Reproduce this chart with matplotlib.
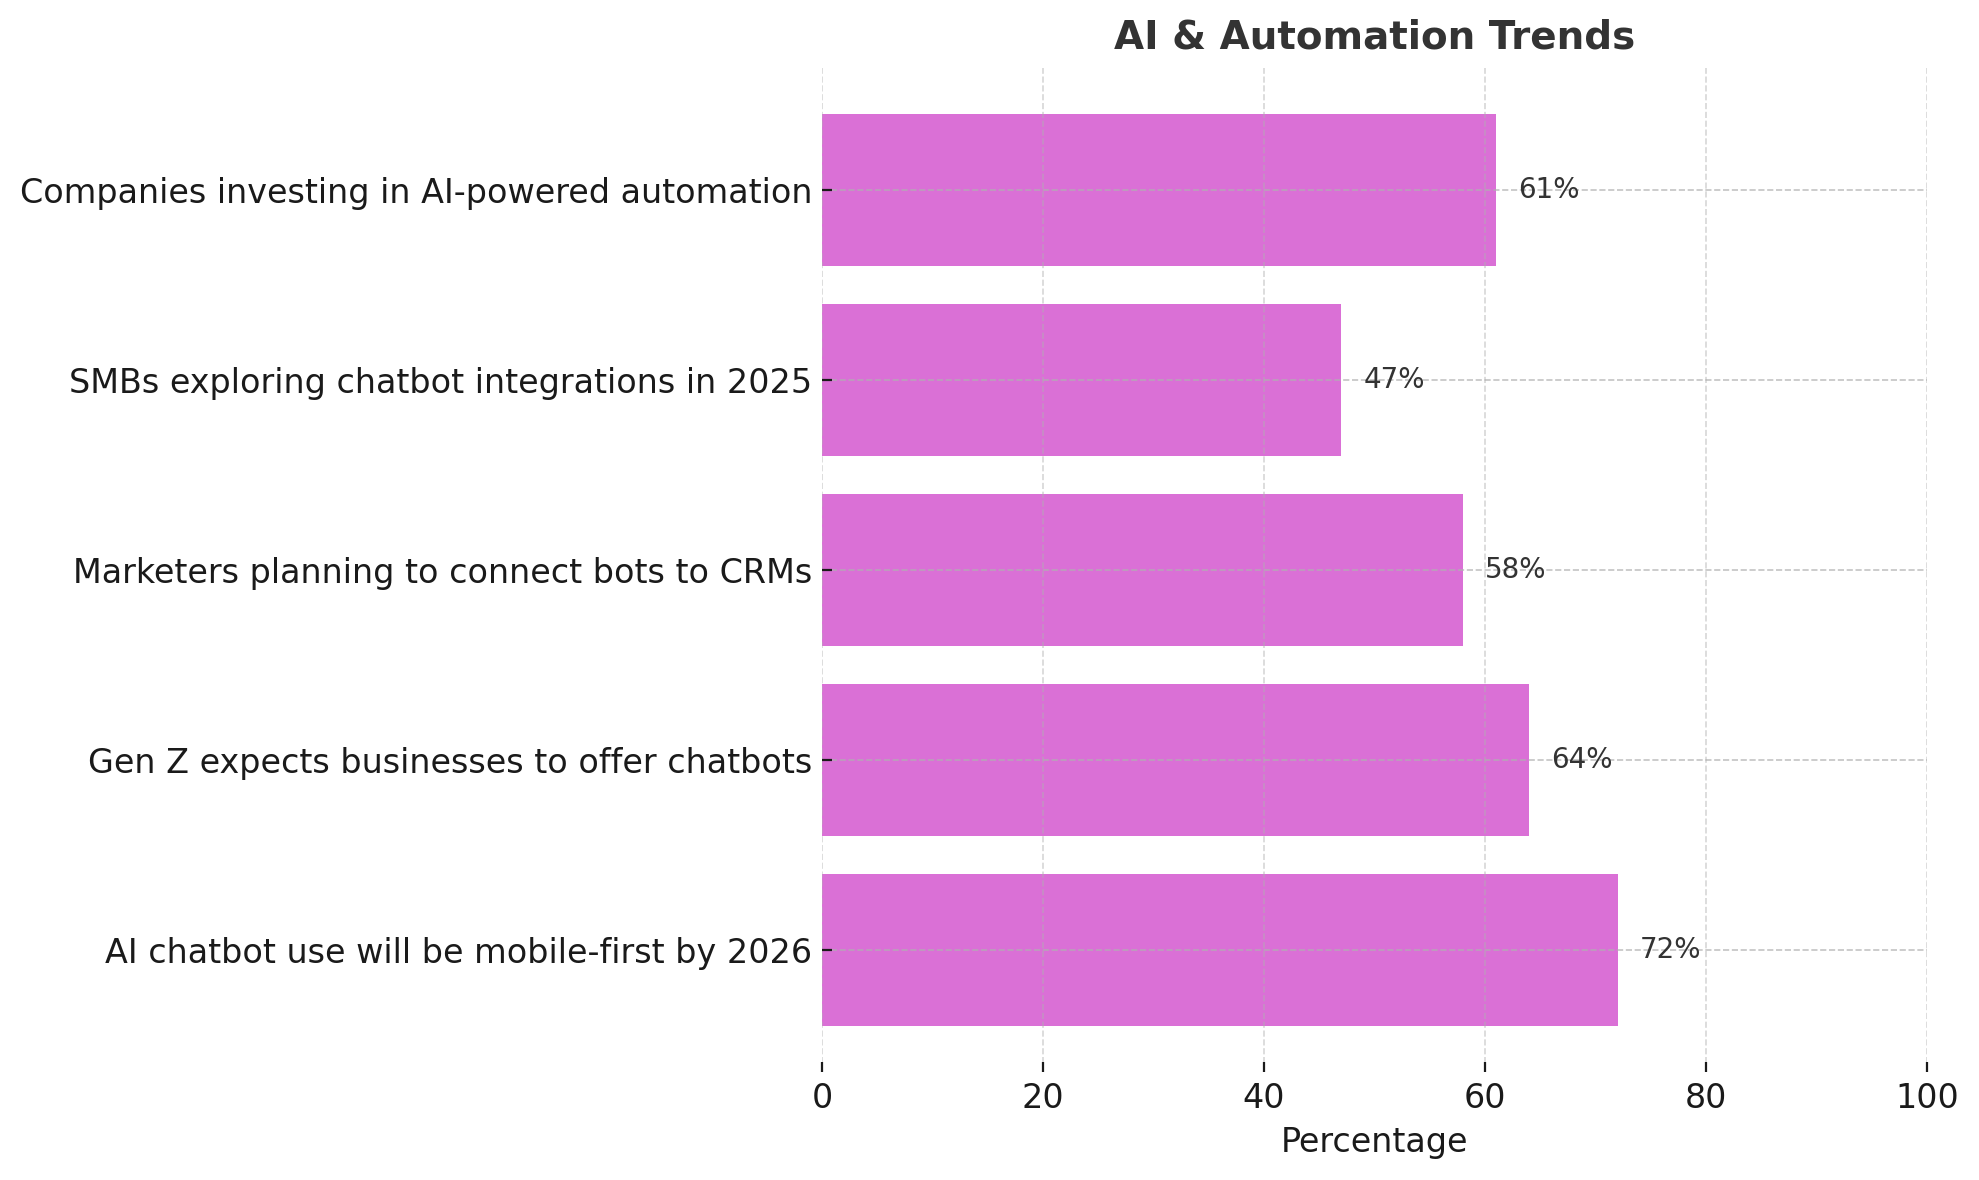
import matplotlib
matplotlib.use("Agg")
import matplotlib.pyplot as plt

categories = [
    "Companies investing in AI-powered automation",
    "SMBs exploring chatbot integrations in 2025",
    "Marketers planning to connect bots to CRMs",
    "Gen Z expects businesses to offer chatbots",
    "AI chatbot use will be mobile-first by 2026",
]
values = [61, 47, 58, 64, 72]
xticks = [0, 20, 40, 60, 80, 100]

fig = plt.figure(figsize=(9.895, 5.9), dpi=200)
ax = fig.add_axes([0.4154, 0.0915, 0.5583, 0.8509])

cats = categories[::-1]
vals = values[::-1]
ypos = list(range(len(cats)))
ax.barh(ypos, vals, height=0.8, color="#DA70D6")
ax.set_yticks(ypos)
ax.set_yticklabels(cats, fontsize=12, color="#1a1a1a")
ax.set_xlim(0, 100)
ax.set_xticks(xticks)
ax.tick_params(axis="both", direction="in", colors="#1a1a1a")
ax.tick_params(axis="x", labelsize=12)
ax.set_xlabel("Percentage", fontsize=12, color="#1a1a1a")
ax.set_title("AI & Automation Trends", fontsize=14, fontweight="bold",
             color="#333333", pad=7)

for s in ax.spines.values():
    s.set_visible(False)

ax.xaxis.grid(True, linestyle="--", color="#b0b0b0", alpha=0.5, linewidth=0.6)
ax.yaxis.grid(True, linestyle="--", color="#b0b0b0", alpha=0.75, linewidth=0.6)

for y, v in zip(ypos, vals):
    ax.text(v + 2, y, f"{v}%", va="center", ha="left", fontsize=10, color="#333333")

fig.savefig("out.png", dpi=200)
